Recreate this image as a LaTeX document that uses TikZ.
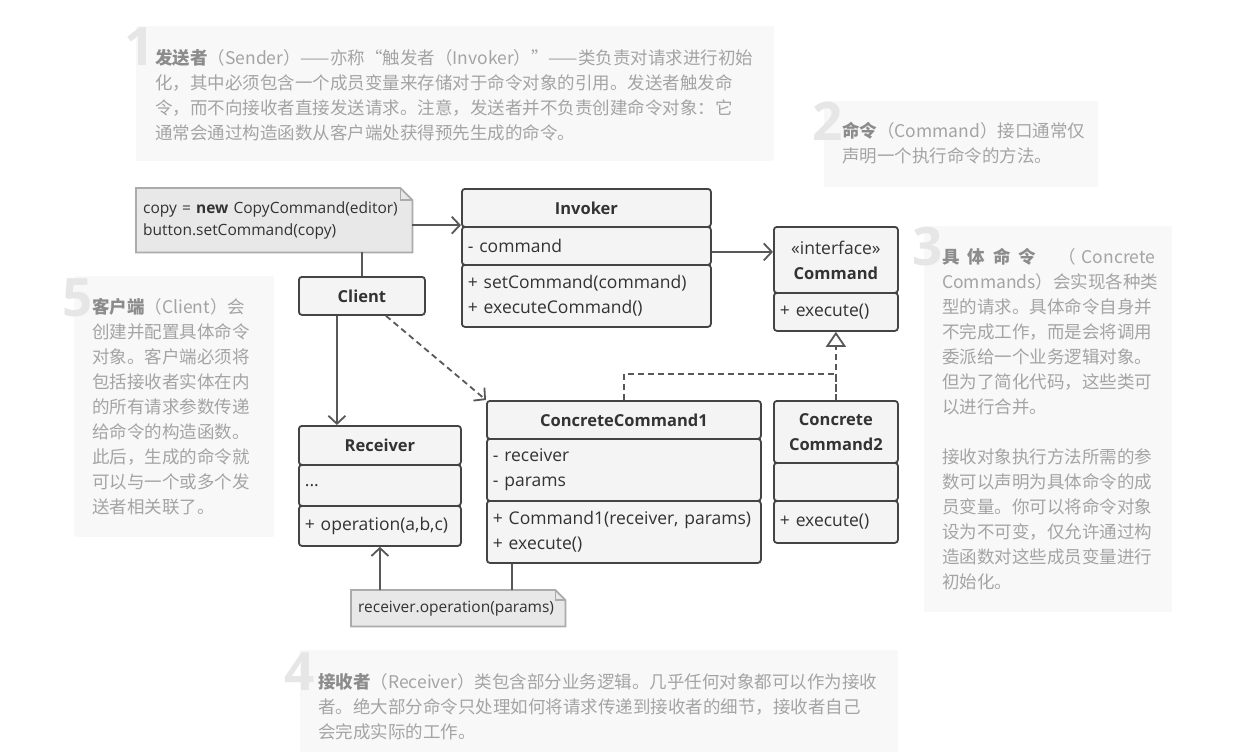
\documentclass[tikz,border=0pt]{standalone}
\usepackage{fontspec}
\setmainfont{Open Sans}
\newfontfamily\cjk{Noto Sans CJK SC}
\usetikzlibrary{arrows.meta,backgrounds}

\definecolor{linecol}{HTML}{585858}
\definecolor{boxline}{HTML}{444444}
\definecolor{boxfill}{HTML}{F4F4F4}
\definecolor{textcol}{HTML}{333333}
\definecolor{notefill}{HTML}{E8E8E8}
\definecolor{noteline}{HTML}{ABABAB}
\definecolor{paperbg}{HTML}{F8F8F8}
\definecolor{numcol}{HTML}{E6E6E6}
\definecolor{desccol}{HTML}{A4A4A4}
\definecolor{desctitle}{HTML}{8C8C8C}

\newcommand{\umlfont}{\fontsize{17.5}{25}\selectfont}
\newcommand{\headfont}{\fontsize{16.5}{25}\selectfont\bfseries}
\newcommand{\notefont}{\fontsize{15.5}{22}\selectfont}
\newcommand{\descfont}{\cjk\fontsize{17.5}{25}\selectfont}
\newcommand{\term}[1]{{\bfseries\color{desctitle}#1}}

\tikzset{
  part/.style={draw=boxline, fill=boxfill, line width=1.8pt, rounded corners=3pt,
    anchor=north west, inner xsep=6pt, inner ysep=0pt, font=\umlfont, text=textcol},
  headpart/.style={part, align=center, font=\headfont},
  bodypart/.style={part, align=left},
  codenote/.style={anchor=north west, inner xsep=7pt, inner ysep=0pt, align=left,
    font=\notefont, text=textcol},
  notebox/.style={fill=notefill, draw=noteline, line width=1.8pt},
  paper/.style={fill=paperbg},
  numlabel/.style={anchor=base west, inner sep=0pt, text=numcol,
    font=\fontsize{53}{53}\selectfont\bfseries},
  desc/.style={anchor=north west, inner sep=0pt, align=left, font=\descfont, text=desccol},
  link/.style={draw=linecol, line width=1.8pt},
  assoc/.style={link, -{Straight Barb[length=8pt,width=17pt]}},
  dep/.style={assoc, dash pattern=on 6pt off 4pt},
  real/.style={link, dash pattern=on 6pt off 4pt},
  realtip/.style={real, -{Triangle[open,fill=white,length=15pt,width=20pt]}}
}

\begin{document}
\begin{tikzpicture}[x=1pt,y=-1pt]
\useasboundingbox (0,0) rectangle (1238,752);

% description panels
\fill[paper] (136,26) rectangle (774,161);
\fill[paper] (824,101) rectangle (1098,187);
\fill[paper] (924,226) rectangle (1172,612);
\fill[paper] (74,276) rectangle (274,537);
\fill[paper] (300,650) rectangle (898,752);

\node[numlabel] (num1) at (124,66) {1};
\node[numlabel] (num2) at (812,140) {2};
\node[numlabel] (num3) at (912,265) {3};
\node[numlabel] (num5) at (62,316) {5};
\node[numlabel] (num4) at (284,690) {4};

\node[desc] (sender) at (155,49) {\term{发送者}（Sender）——亦称“触发者（Invoker）”——类负责对请求进行初始\\
化，其中必须包含一个成员变量来存储对于命令对象的引用。发送者触发命\\
令，而不向接收者直接发送请求。注意，发送者并不负责创建命令对象：它\\
通常会通过构造函数从客户端处获得预先生成的命令。};
\node[desc] (command) at (842,122) {\term{命令}（Command）接口通常仅\\
声明一个执行命令的方法。};
\node[desc] (concrete) at (942,248) {\term{具\hspace{8pt}体\hspace{8pt}命\hspace{8pt}令}\hspace{22pt}（\hspace{6pt}Concrete\\
Commands）会实现各种类\\
型的请求。具体命令自身并\\
不完成工作，而是会将调用\\
委派给一个业务逻辑对象。\\
但为了简化代码，这些类可\\
以进行合并。\\[25pt]
接收对象执行方法所需的参\\
数可以声明为具体命令的成\\
员变量。你可以将命令对象\\
设为不可变，仅允许通过构\\
造函数对这些成员变量进行\\
初始化。};
\node[desc] (clientdesc) at (92,298) {\term{客户端}（Client）会\\
创建并配置具体命令\\
对象。客户端必须将\\
包括接收者实体在内\\
的所有请求参数传递\\
给命令的构造函数。\\
此后，生成的命令就\\
可以与一个或多个发\\
送者相关联了。};
\node[desc] (receiverdesc) at (318,673) {\term{接收者}（Receiver）类包含部分业务逻辑。几乎任何对象都可以作为接收\\
者。绝大部分命令只处理如何将请求传递到接收者的细节，接收者自己\\
会完成实际的工作。};

% classes
\node[headpart, text width=237, minimum height=38] (invHead) at (461,188) {Invoker};
\node[bodypart, text width=237, minimum height=38] (invAttr) at (461,226) {- command};
\node[bodypart, text width=237, minimum height=62] (invOps) at (461,264) {+ setCommand(command)\\+ executeCommand()};

\node[headpart, text width=112, minimum height=66] (cmdHead) at (773,226) {{\umlfont\mdseries «interface»}\\Command};
\node[bodypart, text width=112, minimum height=38] (cmdOps) at (773,292) {+ execute()};

\node[headpart, text width=114, minimum height=38] (client) at (298,276) {Client};

\node[headpart, text width=150, minimum height=39] (recHead) at (298,425) {Receiver};
\node[bodypart, text width=150, minimum height=41] (recAttr) at (298,464) {...};
\node[bodypart, text width=150, minimum height=40] (recOps) at (298,505) {+ operation(a,b,c)};

\node[headpart, text width=262, minimum height=38] (ccOneHead) at (486,400) {ConcreteCommand1};
\node[bodypart, text width=262, minimum height=62] (ccOneAttr) at (486,438) {- receiver\\- params};
\node[bodypart, text width=262, minimum height=62] (ccOneOps) at (486,500) {+ Command1(receiver, params)\\+ execute()};

\node[headpart, text width=112, minimum height=62] (ccTwoHead) at (773,400) {Concrete\\Command2};
\node[bodypart, text width=112, minimum height=38] (ccTwoAttr) at (773,462) {};
\node[bodypart, text width=112, minimum height=42] (ccTwoOps) at (773,500) {+ execute()};

% notes
\node[codenote, text width=262, minimum height=64] (codeNote) at (136,188) {copy = \textbf{new} CopyCommand(editor)\\button.setCommand(copy)};
\node[codenote, text width=200, minimum height=36] (recNote) at (351,590) {receiver.operation(params)};
\begin{scope}[on background layer]
\draw[notebox] (codeNote.north west) -- ([xshift=-12pt]codeNote.north east) -- ([yshift=-12pt]codeNote.north east) -- (codeNote.south east) -- (codeNote.south west) -- cycle;
\draw[notebox] (recNote.north west) -- ([xshift=-10pt]recNote.north east) -- ([yshift=-10pt]recNote.north east) -- (recNote.south east) -- (recNote.south west) -- cycle;
\end{scope}
\draw[draw=noteline, line width=1.2pt] ([xshift=-12pt]codeNote.north east) -- ++(0,12) -- ++(12,0);
\draw[draw=noteline, line width=1.2pt] ([xshift=-10pt]recNote.north east) -- ++(0,10) -- ++(10,0);

% connectors
\draw[assoc] ([yshift=-5pt]codeNote.east) -- ([yshift=-5pt]codeNote.east -| invHead.west);
\draw[link] (codeNote.south -| client.north) -- (client.north);
\draw[assoc] ([yshift=-6pt]invAttr.east) -- ([yshift=-6pt]invAttr.east -| cmdHead.west);
\draw[assoc] ([xshift=-25pt]client.south) -- ([xshift=-25pt]client.south |- recHead.north);
\draw[dep] ([xshift=24pt]client.south) -- (ccOneHead.north west);
\draw[real] (ccOneHead.north) -- ++(0,-26) -| (ccTwoHead.north);
\draw[realtip] (ccTwoHead.north) -- (cmdOps.south);
\draw[link] ([xshift=26pt]ccOneOps.south west) -- ([xshift=26pt]ccOneOps.south west |- recNote.north);
\draw[assoc] (recOps.south |- recNote.north) -- (recOps.south);
\end{tikzpicture}
\end{document}
